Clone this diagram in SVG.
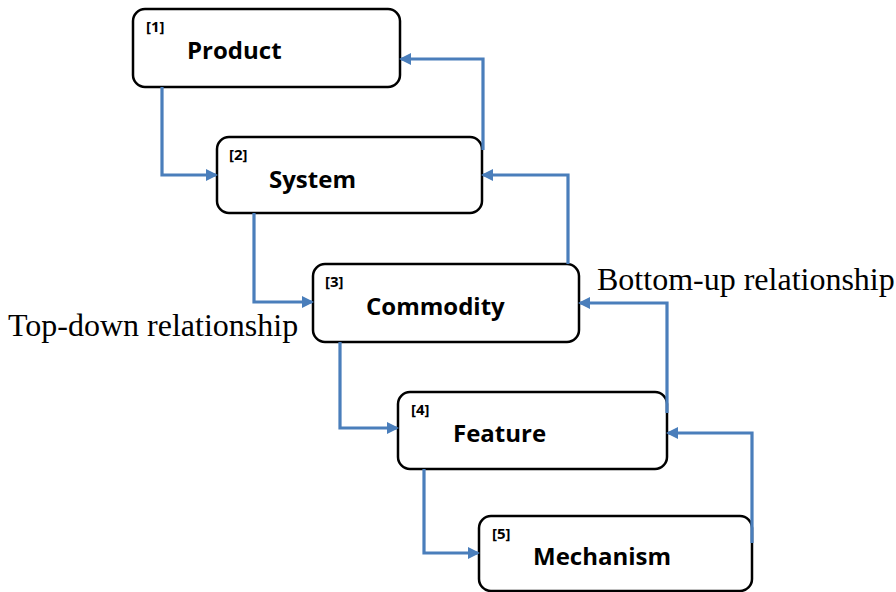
<svg xmlns="http://www.w3.org/2000/svg" width="896" height="592" viewBox="0 0 896 592">
<defs>
<marker id="ah" markerWidth="12" markerHeight="12" refX="10" refY="6" orient="auto" markerUnits="userSpaceOnUse" viewBox="0 0 12 12">
<path d="M0,0 L12,6 L0,12 z" fill="#4a7ebb"/>
</marker>
<style>
.box{fill:#fff;stroke:#000;stroke-width:2.5}
.num{font-family:"Open Sans","Liberation Sans",sans-serif;font-weight:bold;font-size:15px}
.lbl{font-family:"Open Sans","Liberation Sans",sans-serif;font-weight:bold;font-size:24px}
.conn{fill:none;stroke:#4a7ebb;stroke-width:3.2;marker-end:url(#ah)}
.side{font-family:"Liberation Serif",serif;font-size:32px}
</style>
</defs>
<rect width="896" height="592" fill="#fff"/>
<g id="n1"><rect class="box" x="133" y="9" width="267" height="78" rx="12"/><text class="num" x="146" y="32">[1]</text><text class="lbl" x="187" y="59">Product</text></g>
<g id="n2"><rect class="box" x="217" y="137" width="265" height="76" rx="12"/><text class="num" x="229" y="160">[2]</text><text class="lbl" x="269" y="188">System</text></g>
<g id="n3"><rect class="box" x="313" y="264" width="266" height="78" rx="12"/><text class="num" x="325" y="287">[3]</text><text class="lbl" x="366" y="315">Commodity</text></g>
<g id="n4"><rect class="box" x="398" y="392" width="269" height="77" rx="12"/><text class="num" x="411" y="415">[4]</text><text class="lbl" x="453" y="442">Feature</text></g>
<g id="n5"><rect class="box" x="479" y="516" width="273" height="75" rx="12"/><text class="num" x="492" y="539">[5]</text><text class="lbl" x="533" y="565">Mechanism</text></g>
<g id="connectors">
<path class="conn" d="M162,87 V175 H216"/>
<path class="conn" d="M254,213 V302 H312"/>
<path class="conn" d="M340,342 V428 H397"/>
<path class="conn" d="M424,469 V553 H478"/>
<path class="conn" d="M483,150 V59 H401"/>
<path class="conn" d="M568,264 V175 H483"/>
<path class="conn" d="M667,413 V303 H580"/>
<path class="conn" d="M752,543 V433 H668"/>
</g>
<text class="side" x="8" y="336">Top-down relationship</text>
<text class="side" x="597" y="290">Bottom-up relationship</text>
</svg>
